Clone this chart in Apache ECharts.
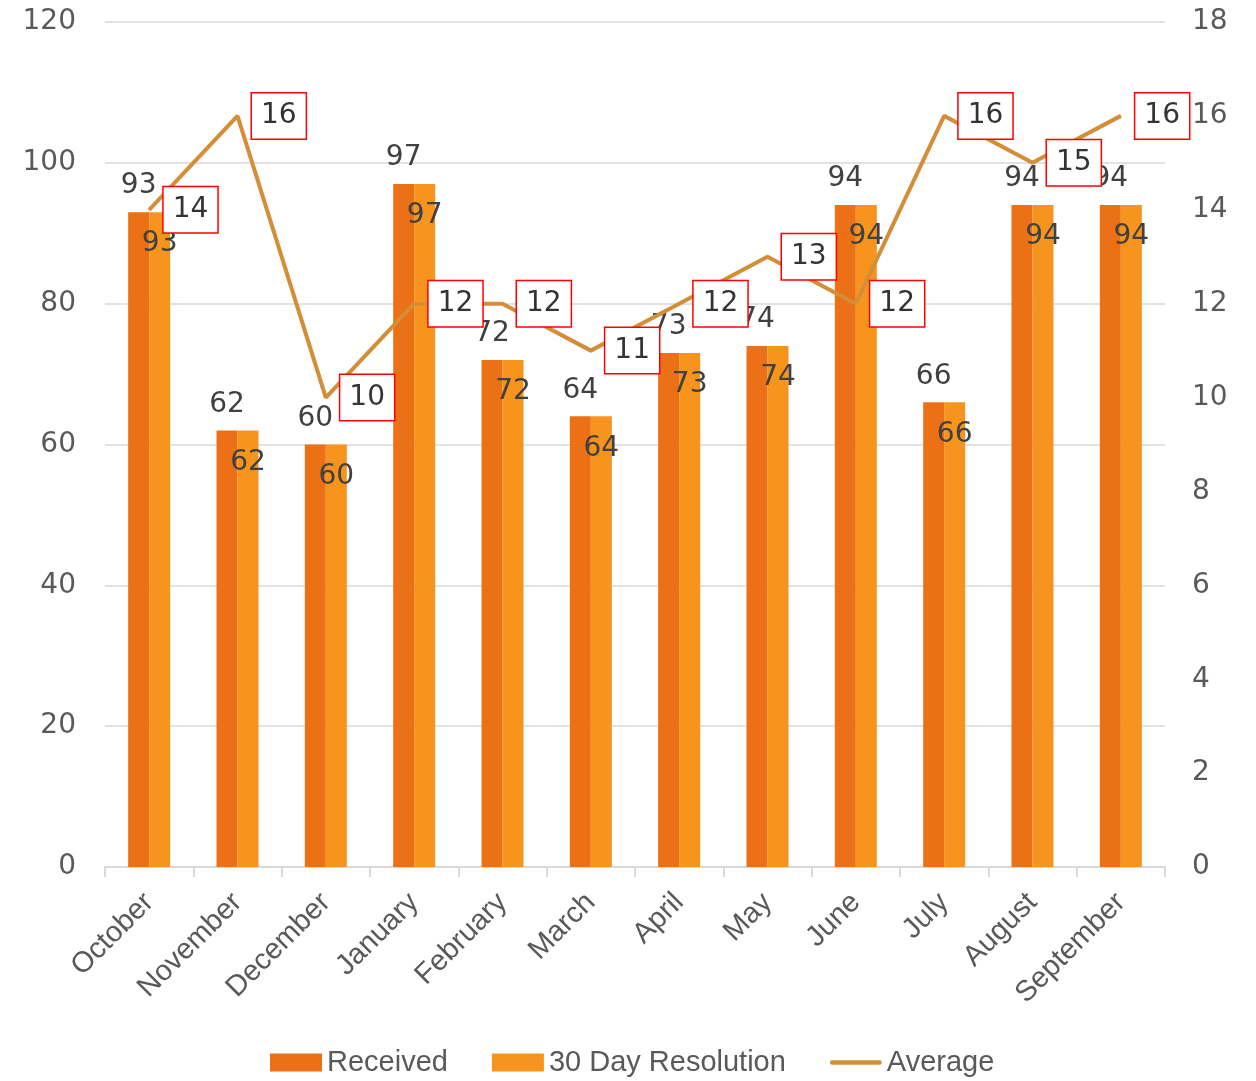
<!DOCTYPE html>
<html>
<head>
<meta charset="utf-8">
<script src="https://cdn.jsdelivr.net/npm/echarts@6/dist/echarts.min.js"></script>
<style>html,body{margin:0;padding:0;background:#fff}#c{width:1256px;height:1081px}</style>
</head>
<body>
<div id="c"></div>
<script>
var months = ['October','November','December','January','February','March','April','May','June','July','August','September'];
var received = [93, 62, 60, 97, 72, 64, 73, 74, 94, 66, 94, 94];
var resolution = [93, 62, 60, 97, 72, 64, 73, 74, 94, 66, 94, 94];
var average = [14, 16, 10, 12, 12, 11, 12, 13, 12, 16, 15, 16];

var NUMFONT = 'DejaVu Sans';
var TXTFONT = 'Liberation Sans';
var chart = echarts.init(document.getElementById('c'), null, {renderer: 'canvas'});
chart.setOption({
  animation: false,
  textStyle: {fontFamily: TXTFONT},
  grid: {left: 105, right: 91, top: 22, bottom: 214, containLabel: false},
  legend: {
    top: 1043, left: 265,
    itemWidth: 52, itemHeight: 18, itemGap: 44,
    textStyle: {fontSize: 29, color: '#595959', fontFamily: TXTFONT},
    data: [
      {name: 'Received', icon: 'rect'},
      {name: '30 Day Resolution', icon: 'rect'},
      {name: 'Average', icon: 'path://M0,0 L0,0 M2,6.5 L53,6.5 A2.5,2.5 0 0 1 53,11.5 L2,11.5 A2.5,2.5 0 0 1 2,6.5 Z M55,18 L55,18'}
    ]
  },
  xAxis: {
    type: 'category', data: months, boundaryGap: true,
    axisLine: {lineStyle: {color: '#d9d9d9', width: 2}},
    axisTick: {show: true, length: 10, lineStyle: {color: '#d9d9d9', width: 2}},
    axisLabel: {rotate: 45, fontSize: 29, color: '#595959', margin: 31, interval: 0, fontFamily: TXTFONT}
  },
  yAxis: [
    {type: 'value', min: 0, max: 120, interval: 20,
     axisLine: {show: false}, axisTick: {show: false},
     splitLine: {lineStyle: {color: '#d9d9d9', width: 1.5}},
     axisLabel: {fontSize: 28, color: '#595959', margin: 29, fontFamily: NUMFONT, padding: [6, 0, 0, 0]}},
    {type: 'value', min: 0, max: 18, interval: 2,
     axisLine: {show: false}, axisTick: {show: false}, splitLine: {show: false},
     axisLabel: {fontSize: 28, color: '#595959', margin: 27, fontFamily: NUMFONT, padding: [6, 0, 0, 0]}}
  ],
  series: [
    {name: 'Received', type: 'bar', data: received, barWidth: 21, barGap: '0%',
     itemStyle: {color: '#EC7116'},
     label: {show: true, position: 'top', distance: 12, fontSize: 28, color: '#404040', fontFamily: NUMFONT}},
    {name: '30 Day Resolution', type: 'bar', data: resolution, barWidth: 21,
     itemStyle: {color: '#F7941D'},
     label: {show: true, position: 'insideTop', distance: 18, fontSize: 28, color: '#404040', fontFamily: NUMFONT}},
    {name: 'Average', type: 'line', yAxisIndex: 1, data: average, z: 10,
     symbol: 'circle', symbolSize: 1, showSymbol: true,
     lineStyle: {color: '#D38E38', width: 4},
     itemStyle: {color: '#D38E38'},
     label: {show: true, position: 'right', distance: 14, fontSize: 28, color: '#333333', fontFamily: NUMFONT,
       backgroundColor: '#ffffff', borderColor: '#ff0000', borderWidth: 1.5,
       padding: [10, 9, 7, 9]}}
  ]
});
</script>
</body>
</html>
